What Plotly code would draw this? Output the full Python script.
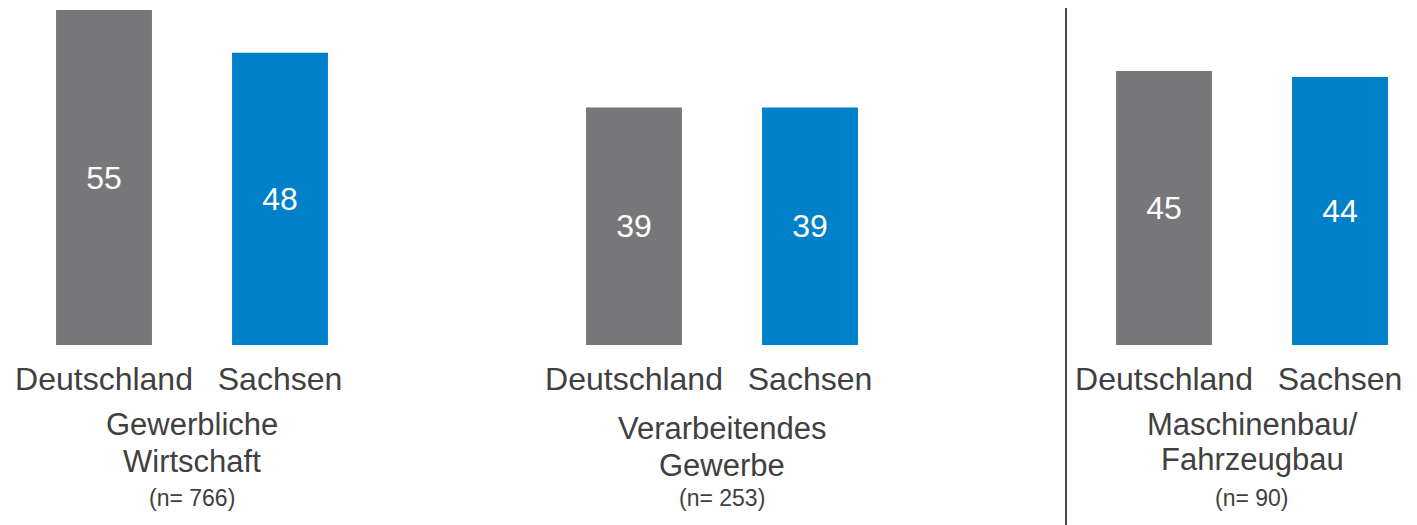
import plotly.graph_objects as go
from plotly.subplots import make_subplots

# Daten aus dem Diagramm
gruppen = [["Gewerbliche", "Wirtschaft"], ["Verarbeitendes", "Gewerbe"], ["Maschinenbau/", "Fahrzeugbau"]]
stichprobe = ["(n= 766)", "(n= 253)", "(n= 90)"]
regionen = ["Deutschland", "Sachsen"]
werte_deutschland = [55, 39, 45]
werte_sachsen = [48, 39, 44]

farben = ["#77777a", "#0080c8"]
textfarbe = "#404040"
schrift = "Liberation Sans, Arial, sans-serif"

# die Seite hat 8px Rand, daher etwas kleiner
W, H = 1409, 517
# Lage der drei Teilbereiche (Pixel, Figurkoordinaten)
domains = [(8, 360), (538, 890), (1068, 1409)]
zeilen_shift = [(-79, -116), (-83, -120), (-79, -114)]

fig = make_subplots(rows=1, cols=3)

for i in range(3):
    werte = [werte_deutschland[i], werte_sachsen[i]]
    fig.add_trace(go.Bar(
        x=regionen, y=werte,
        marker=dict(color=farben, line=dict(width=0)),
        width=0.545,
        text=[str(v) for v in werte],
        textposition="inside", insidetextanchor="middle", textangle=0,
        textfont=dict(color="white", size=32, family=schrift),
        showlegend=False, hoverinfo="skip",
    ), row=1, col=i + 1)

    d0, d1 = domains[i]
    span = (d1 - d0) / 176.0
    ax = "xaxis" if i == 0 else f"xaxis{i + 1}"
    fig.layout[ax].update(
        domain=[d0 / W, d1 / W], range=[-0.5, -0.5 + span],
        showline=False, showgrid=False, zeroline=False, ticks="",
        ticklabelstandoff=12,
        tickfont=dict(size=32, color=textfarbe, family=schrift),
    )
    ay = "yaxis" if i == 0 else f"yaxis{i + 1}"
    fig.layout[ay].update(range=[0, 55], visible=False, showgrid=False)

    xr = "x" if i == 0 else f"x{i + 1}"
    for zeile, ys in zip(gruppen[i], zeilen_shift[i]):
        fig.add_annotation(
            x=0.5, xref=xr, y=0, yref="paper", yshift=ys,
            text=zeile, showarrow=False, yanchor="middle", xanchor="center",
            font=dict(size=31, color=textfarbe, family=schrift),
        )
    fig.add_annotation(
        x=0.5, xref=xr, y=0, yref="paper", yshift=-153,
        text=stichprobe[i], showarrow=False, yanchor="middle", xanchor="center",
        font=dict(size=23, color=textfarbe, family=schrift),
    )

# Trennlinie
fig.add_shape(type="line", xref="paper", yref="paper",
              x0=1058 / W, x1=1058 / W, y0=-0.6, y1=1.1,
              line=dict(color="#4a4a4a", width=2))

fig.update_layout(
    width=W, height=H,
    margin=dict(l=0, r=0, t=2, b=180),
    plot_bgcolor="white", paper_bgcolor="white",
    font=dict(family=schrift, color=textfarbe),
)

fig.write_html("out.html")
